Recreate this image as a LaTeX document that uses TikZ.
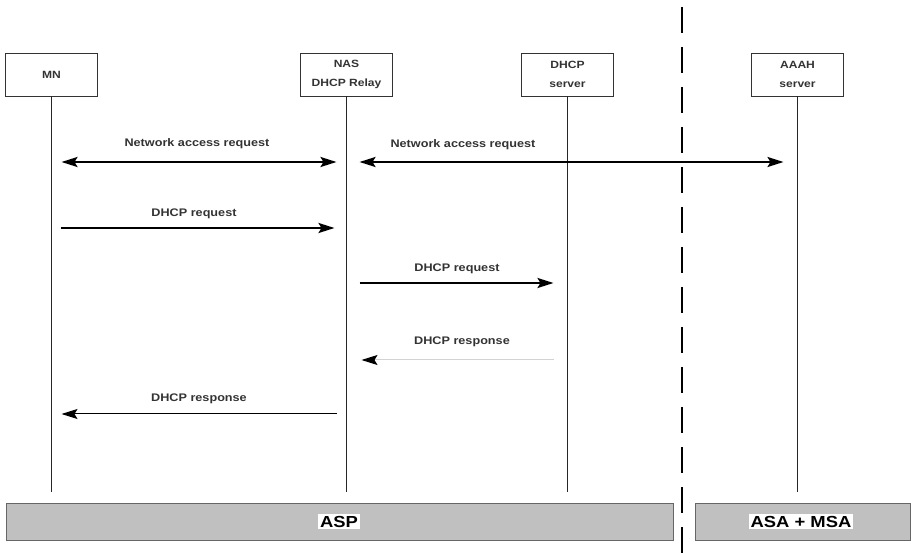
\documentclass[tikz,border=0pt]{standalone}
\usepackage{fontspec}
\setmainfont{Liberation Sans}
\newfontfamily\widefont[FakeStretch=1.15]{Liberation Sans}
\usepackage{tikz}
\usetikzlibrary{arrows.meta}
\usepackage{xcolor}

\definecolor{bargray}{HTML}{C0C0C0}
\definecolor{txtgray}{HTML}{333333}

\tikzset{
  entity/.style={draw=black!80,line width=0.8pt,minimum width=92pt,minimum height=43pt,
    align=center,font=\widefont\fontsize{10.5}{19}\selectfont\bfseries,text=txtgray},
  lifeline/.style={black!85,line width=0.8pt},
  msg/.style={line width=2.2pt},
  msglabel/.style={font=\widefont\fontsize{11}{13}\selectfont\bfseries,text=txtgray,inner sep=0pt},
  areabar/.style={draw=black!60,fill=bargray,line width=1pt},
  arealabel/.style={fill=white,inner sep=2pt,font=\widefont\fontsize{16}{18}\selectfont\bfseries}
}

\begin{document}
\begin{tikzpicture}[x=1pt,y=-1pt,>={Stealth[length=16pt,width=10pt,inset=3pt]},line cap=butt]
\useasboundingbox (0,0) rectangle (911,553);

\node[entity] (mn) at (51.5,74.5) {MN};
\node[entity] (nas) at (346.5,74.5) {NAS\\DHCP Relay};
\node[entity] (dhcp) at (567.5,74.5) {DHCP\\server};
\node[entity] (aaah) at (797.5,74.5) {AAAH\\server};

\coordinate (bottom) at (0,492);
\draw[lifeline] (mn.south) -- (mn |- bottom);
\draw[lifeline] (nas.south) -- (nas |- bottom);
\draw[lifeline] (dhcp.south) -- (dhcp |- bottom);
\draw[lifeline] (aaah.south) -- (aaah |- bottom);

\coordinate (top) at (682,7);
\coordinate (foot) at (682,553);
\draw[line width=2.8pt,dash pattern=on 26pt off 14pt] (top) -- (foot);

\coordinate (r1) at (0,162);
\coordinate (r2) at (0,228);
\coordinate (r3) at (0,283);
\coordinate (r4) at (0,360);
\coordinate (r5) at (0,414);

\draw[msg,<->,shorten <=10pt,shorten >=10pt] (mn |- r1) -- node[msglabel,above=12pt,xshift=-2pt] {Network access request} (nas |- r1);
\draw[msg,<->,shorten <=13pt,shorten >=14pt] (nas |- r1) -- (aaah |- r1);
\node[msglabel,above=12pt] (nar) at (463,162) {Network access request};

\draw[msg,->,shorten <=9pt,shorten >=12pt] (mn |- r2) -- node[msglabel,above=8pt,xshift=-5pt] {DHCP request} (nas |- r2);
\draw[msg,->,shorten <=13pt,shorten >=14pt] (nas |- r3) -- node[msglabel,above=8pt] {DHCP request} (dhcp |- r3);
\draw[gray!35,line width=1pt,-{Stealth[length=16pt,width=10pt,inset=3pt,color=black]},shorten <=14pt,shorten >=15pt]
  (dhcp |- r4) -- node[msglabel,above=13pt,xshift=5pt] {DHCP response} (nas |- r4);
\draw[line width=1pt,->,shorten <=10pt,shorten >=10pt] (nas |- r5) -- node[msglabel,above=10pt] {DHCP response} (mn |- r5);

\draw[areabar] (6,503) rectangle (673,540);
\node[arealabel] (asp) at (339,521.5) {ASP};
\draw[areabar] (695,503) rectangle (910,540);
\node[arealabel] (asa) at (801,521.5) {ASA + MSA};
\end{tikzpicture}
\end{document}
